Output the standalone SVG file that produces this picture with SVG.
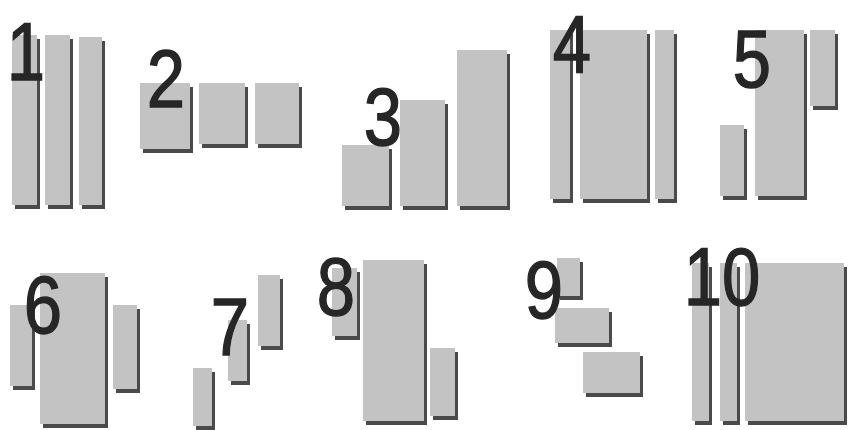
<svg xmlns="http://www.w3.org/2000/svg" width="848" height="430" viewBox="0 0 848 430">
<style>
.sh{fill:#4a4a4a}
.fc{fill:#c3c3c3}
.lb{font-family:"Liberation Sans",Arial,sans-serif;font-size:82px;fill:#262626;stroke:#262626;stroke-width:1.4px;text-anchor:middle}
</style>
<rect width="848" height="430" fill="#ffffff"/>
<g id="panel1">
<rect class="sh" x="15" y="39" width="25" height="170"/><rect class="fc" x="12" y="35" width="25" height="170"/>
<rect class="sh" x="48" y="39" width="25" height="170"/><rect class="fc" x="45" y="35" width="25" height="170"/>
<rect class="sh" x="82" y="41" width="23" height="168"/><rect class="fc" x="79" y="37" width="23" height="168"/>
<text class="lb" transform="translate(26,80) scale(0.84,1)">1</text>
</g>
<g id="panel2">
<rect class="sh" x="143" y="87" width="50" height="66"/><rect class="fc" x="140" y="83" width="50" height="66"/>
<rect class="sh" x="202" y="87" width="46" height="61"/><rect class="fc" x="199" y="83" width="46" height="61"/>
<rect class="sh" x="258" y="87" width="44" height="61"/><rect class="fc" x="255" y="83" width="44" height="61"/>
<text class="lb" transform="translate(166,107) scale(0.84,1)">2</text>
</g>
<g id="panel3">
<rect class="sh" x="345" y="149" width="47" height="61"/><rect class="fc" x="342" y="145" width="47" height="61"/>
<rect class="sh" x="403" y="104" width="45" height="106"/><rect class="fc" x="400" y="100" width="45" height="106"/>
<rect class="sh" x="460" y="54" width="50" height="156"/><rect class="fc" x="457" y="50" width="50" height="156"/>
<text class="lb" transform="translate(383,145) scale(0.84,1)">3</text>
</g>
<g id="panel4">
<rect class="sh" x="553" y="34" width="20" height="169"/><rect class="fc" x="550" y="30" width="20" height="169"/>
<rect class="sh" x="583" y="34" width="67" height="169"/><rect class="fc" x="580" y="30" width="67" height="169"/>
<rect class="sh" x="658" y="34" width="19" height="169"/><rect class="fc" x="655" y="30" width="19" height="169"/>
<text class="lb" transform="translate(572,73) scale(0.84,1)">4</text>
</g>
<g id="panel5">
<rect class="sh" x="723" y="129" width="24" height="71"/><rect class="fc" x="720" y="125" width="24" height="71"/>
<rect class="sh" x="758" y="34" width="49" height="166"/><rect class="fc" x="755" y="30" width="49" height="166"/>
<rect class="sh" x="813" y="34" width="25" height="76"/><rect class="fc" x="810" y="30" width="25" height="76"/>
<text class="lb" transform="translate(752,87) scale(0.84,1)">5</text>
</g>
<g id="panel6">
<rect class="sh" x="13" y="309" width="22" height="81"/><rect class="fc" x="10" y="305" width="22" height="81"/>
<rect class="sh" x="43" y="277" width="65" height="151"/><rect class="fc" x="40" y="273" width="65" height="151"/>
<rect class="sh" x="116" y="309" width="24" height="84"/><rect class="fc" x="113" y="305" width="24" height="84"/>
<text class="lb" transform="translate(43,333) scale(0.84,1)">6</text>
</g>
<g id="panel7">
<rect class="sh" x="196" y="372" width="19" height="58"/><rect class="fc" x="193" y="368" width="19" height="58"/>
<rect class="sh" x="231" y="324" width="19" height="61"/><rect class="fc" x="228" y="320" width="19" height="61"/>
<rect class="sh" x="261" y="279" width="22" height="71"/><rect class="fc" x="258" y="275" width="22" height="71"/>
<text class="lb" transform="translate(230,355) scale(0.84,1)">7</text>
</g>
<g id="panel8">
<rect class="sh" x="335" y="272" width="25" height="68"/><rect class="fc" x="332" y="268" width="25" height="68"/>
<rect class="sh" x="366" y="264" width="61" height="161"/><rect class="fc" x="363" y="260" width="61" height="161"/>
<rect class="sh" x="433" y="352" width="25" height="68"/><rect class="fc" x="430" y="348" width="25" height="68"/>
<text class="lb" transform="translate(336,315) scale(0.84,1)">8</text>
</g>
<g id="panel9">
<rect class="sh" x="560" y="262" width="23" height="38"/><rect class="fc" x="557" y="258" width="23" height="38"/>
<rect class="sh" x="558" y="312" width="54" height="35"/><rect class="fc" x="555" y="308" width="54" height="35"/>
<rect class="sh" x="586" y="356" width="57" height="41"/><rect class="fc" x="583" y="352" width="57" height="41"/>
<text class="lb" transform="translate(544,318) scale(0.84,1)">9</text>
</g>
<g id="panel10">
<rect class="sh" x="695" y="267" width="17" height="158"/><rect class="fc" x="692" y="263" width="17" height="158"/>
<rect class="sh" x="723" y="267" width="17" height="158"/><rect class="fc" x="720" y="263" width="17" height="158"/>
<rect class="sh" x="748" y="267" width="99" height="158"/><rect class="fc" x="745" y="263" width="99" height="158"/>
<text class="lb" transform="translate(722,305) scale(0.84,1)">10</text>
</g>
</svg>
